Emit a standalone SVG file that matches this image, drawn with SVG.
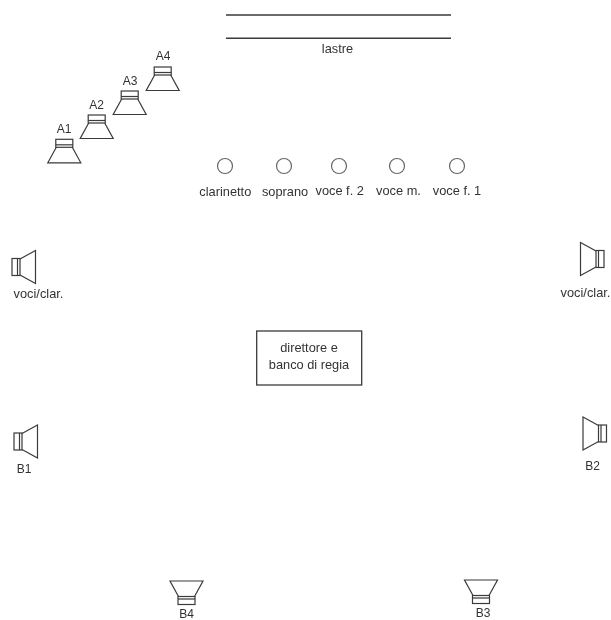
<svg xmlns="http://www.w3.org/2000/svg" width="611" height="620" viewBox="0 0 611 620">
<style>
text{font-family:"Liberation Sans",Arial,sans-serif;font-size:12.8px;fill:#333;text-anchor:middle}
text.k{font-size:12px}
.s{fill:none;stroke:#3a3a3a;stroke-width:1.2}
.c{fill:#fff;stroke:#666;stroke-width:1.2}
</style>
<defs>
<filter id="soft" x="-5%" y="-5%" width="110%" height="110%"><feGaussianBlur stdDeviation="0.4"/></filter>
<g id="spk">
<rect class="s" x="-8.500" y="0" width="17" height="8"/>
<path class="s" d="M-8.500 5.500H8.500"/>
<path class="s" d="M-8 8L-16.500 23.500H16.500L8 8"/>
</g>
</defs>
<rect width="611" height="620" fill="#fff"/>
<g filter="url(#soft)">
<g id="lastre">
<path class="s" style="stroke-width:1.500" d="M226 15H451M226 38.300H451"/>
<text x="337.500" y="53">lastre</text>
</g>
<g id="A1"><use href="#spk" transform="translate(64.300 139.300)"/><text class="k" x="64" y="133">A1</text></g>
<g id="A2"><use href="#spk" transform="translate(96.700 115)"/><text class="k" x="96.500" y="109">A2</text></g>
<g id="A3"><use href="#spk" transform="translate(129.700 91)"/><text class="k" x="130" y="85">A3</text></g>
<g id="A4"><use href="#spk" transform="translate(162.700 67)"/><text class="k" x="163" y="60">A4</text></g>
<g id="clarinetto"><circle class="c" cx="225" cy="166" r="7.500"/><text x="225.300" y="196">clarinetto</text></g>
<g id="soprano"><circle class="c" cx="284" cy="166" r="7.500"/><text x="285" y="196">soprano</text></g>
<g id="voce-f2"><circle class="c" cx="339" cy="166" r="7.500"/><text x="339.700" y="195">voce f. 2</text></g>
<g id="voce-m"><circle class="c" cx="397" cy="166" r="7.500"/><text x="398.500" y="195">voce m.</text></g>
<g id="voce-f1"><circle class="c" cx="457" cy="166" r="7.500"/><text x="457" y="195">voce f. 1</text></g>
<g id="voci-clar-l"><use href="#spk" transform="translate(12 267) rotate(-90)"/><text x="38.500" y="298">voci/clar.</text></g>
<g id="voci-clar-r"><use href="#spk" transform="translate(604 259) rotate(90)"/><text x="585.500" y="296.500">voci/clar.</text></g>
<g id="regia">
<rect x="256.700" y="331" width="105" height="54" fill="none" stroke="#3a3a3a" stroke-width="1.300"/>
<text x="309" y="351.500">direttore e</text>
<text x="309" y="368.500">banco di regia</text>
</g>
<g id="B1"><use href="#spk" transform="translate(14 441.500) rotate(-90)"/><text class="k" x="24" y="473">B1</text></g>
<g id="B2"><use href="#spk" transform="translate(606.500 433.500) rotate(90)"/><text class="k" x="592.700" y="470">B2</text></g>
<g id="B3"><use href="#spk" transform="translate(481 603.500) rotate(180)"/><text class="k" x="483" y="617">B3</text></g>
<g id="B4"><use href="#spk" transform="translate(186.500 604.500) rotate(180)"/><text class="k" x="186.700" y="618">B4</text></g>
</g>
<g id="connectors"/>
</svg>
